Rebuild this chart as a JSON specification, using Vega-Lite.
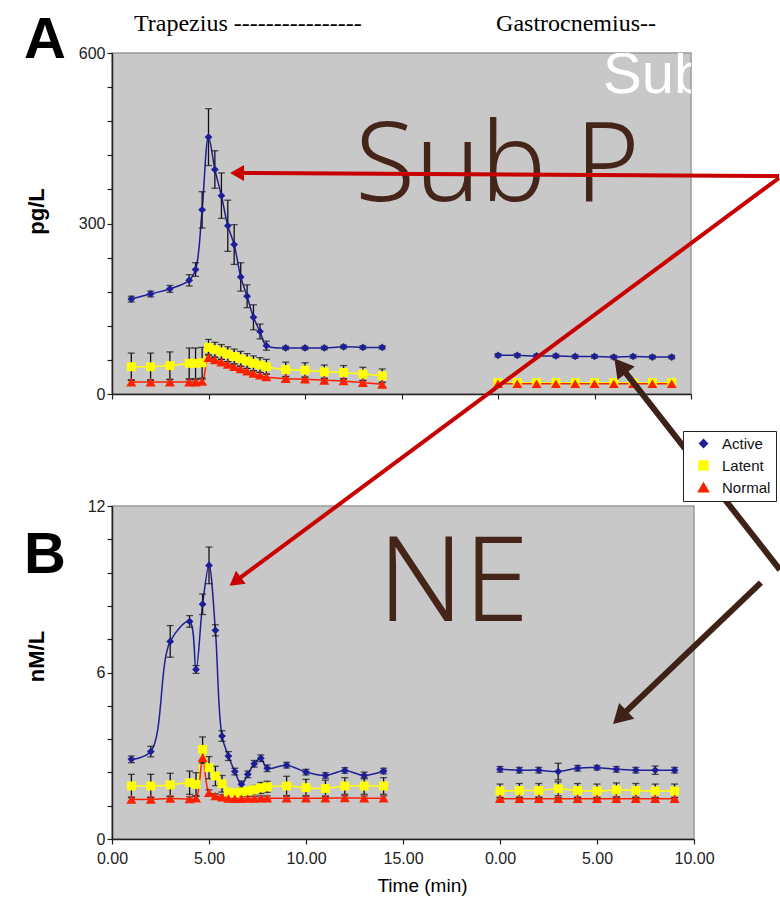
{
  "$schema": "https://vega.github.io/schema/vega-lite/v6.json",
  "padding": {"left": 23, "top": 11, "right": 0, "bottom": 0},
  "bounds": "flush",
  "spacing": 112,
  "config": {
    "view": {"fill": "#c8c8c8", "stroke": "#9a9a9a", "strokeWidth": 1.5},
    "axis": {"grid": false, "domainColor": "#222", "domainWidth": 1.5, "tickColor": "#222", "tickWidth": 1.2, "tickSize": 5, "labelFont": "Liberation Sans", "labelFontSize": 16, "labelColor": "#222", "labelFlush": false, "labelOverlap": false, "titleFont": "Liberation Sans", "titleColor": "#000"}
  },
  "resolve": {
    "scale": {"x": "independent", "y": "independent"}
  },
  "datasets": {
    "subp": [
      {"series": "Active", "muscle": "Trapezius", "time": 1, "value": 167, "sd": 5},
      {"series": "Active", "muscle": "Trapezius", "time": 2, "value": 176, "sd": 5},
      {"series": "Active", "muscle": "Trapezius", "time": 3, "value": 185, "sd": 6},
      {"series": "Active", "muscle": "Trapezius", "time": 4, "value": 200, "sd": 10},
      {"series": "Active", "muscle": "Trapezius", "time": 4.33, "value": 219, "sd": 12},
      {"series": "Active", "muscle": "Trapezius", "time": 4.67, "value": 324, "sd": 32},
      {"series": "Active", "muscle": "Trapezius", "time": 5, "value": 452, "sd": 50},
      {"series": "Active", "muscle": "Trapezius", "time": 5.33, "value": 395, "sd": 33},
      {"series": "Active", "muscle": "Trapezius", "time": 5.67, "value": 349, "sd": 40},
      {"series": "Active", "muscle": "Trapezius", "time": 6, "value": 296, "sd": 45},
      {"series": "Active", "muscle": "Trapezius", "time": 6.33, "value": 263, "sd": 35},
      {"series": "Active", "muscle": "Trapezius", "time": 6.67, "value": 206, "sd": 25},
      {"series": "Active", "muscle": "Trapezius", "time": 7, "value": 172, "sd": 20},
      {"series": "Active", "muscle": "Trapezius", "time": 7.33, "value": 135, "sd": 22},
      {"series": "Active", "muscle": "Trapezius", "time": 7.67, "value": 110, "sd": 13},
      {"series": "Active", "muscle": "Trapezius", "time": 8, "value": 85, "sd": 8},
      {"series": "Active", "muscle": "Trapezius", "time": 9, "value": 81, "sd": 3},
      {"series": "Active", "muscle": "Trapezius", "time": 10, "value": 81, "sd": 3},
      {"series": "Active", "muscle": "Trapezius", "time": 11, "value": 81, "sd": 3},
      {"series": "Active", "muscle": "Trapezius", "time": 12, "value": 83, "sd": 3},
      {"series": "Active", "muscle": "Trapezius", "time": 13, "value": 82, "sd": 3},
      {"series": "Active", "muscle": "Trapezius", "time": 14, "value": 82, "sd": 3},
      {"series": "Active", "muscle": "Gastrocnemius", "time": 0, "value": 68, "sd": 3},
      {"series": "Active", "muscle": "Gastrocnemius", "time": 1, "value": 68, "sd": 3},
      {"series": "Active", "muscle": "Gastrocnemius", "time": 2, "value": 67, "sd": 3},
      {"series": "Active", "muscle": "Gastrocnemius", "time": 3, "value": 67, "sd": 3},
      {"series": "Active", "muscle": "Gastrocnemius", "time": 4, "value": 66, "sd": 3},
      {"series": "Active", "muscle": "Gastrocnemius", "time": 5, "value": 66, "sd": 3},
      {"series": "Active", "muscle": "Gastrocnemius", "time": 6, "value": 65, "sd": 3},
      {"series": "Active", "muscle": "Gastrocnemius", "time": 7, "value": 66, "sd": 3},
      {"series": "Active", "muscle": "Gastrocnemius", "time": 8, "value": 65, "sd": 3},
      {"series": "Active", "muscle": "Gastrocnemius", "time": 9, "value": 65, "sd": 3},
      {"series": "Latent", "muscle": "Trapezius", "time": 1, "value": 48, "sd": 24},
      {"series": "Latent", "muscle": "Trapezius", "time": 2, "value": 48, "sd": 24},
      {"series": "Latent", "muscle": "Trapezius", "time": 3, "value": 50, "sd": 24},
      {"series": "Latent", "muscle": "Trapezius", "time": 4, "value": 54, "sd": 27},
      {"series": "Latent", "muscle": "Trapezius", "time": 4.33, "value": 54, "sd": 27},
      {"series": "Latent", "muscle": "Trapezius", "time": 4.67, "value": 55, "sd": 27},
      {"series": "Latent", "muscle": "Trapezius", "time": 5, "value": 82, "sd": 14},
      {"series": "Latent", "muscle": "Trapezius", "time": 5.33, "value": 78, "sd": 13},
      {"series": "Latent", "muscle": "Trapezius", "time": 5.67, "value": 74, "sd": 13},
      {"series": "Latent", "muscle": "Trapezius", "time": 6, "value": 70, "sd": 13},
      {"series": "Latent", "muscle": "Trapezius", "time": 6.33, "value": 66, "sd": 13},
      {"series": "Latent", "muscle": "Trapezius", "time": 6.67, "value": 62, "sd": 13},
      {"series": "Latent", "muscle": "Trapezius", "time": 7, "value": 58, "sd": 13},
      {"series": "Latent", "muscle": "Trapezius", "time": 7.33, "value": 54, "sd": 13},
      {"series": "Latent", "muscle": "Trapezius", "time": 7.67, "value": 51, "sd": 13},
      {"series": "Latent", "muscle": "Trapezius", "time": 8, "value": 48, "sd": 13},
      {"series": "Latent", "muscle": "Trapezius", "time": 9, "value": 43, "sd": 13},
      {"series": "Latent", "muscle": "Trapezius", "time": 10, "value": 42, "sd": 13},
      {"series": "Latent", "muscle": "Trapezius", "time": 11, "value": 39, "sd": 12},
      {"series": "Latent", "muscle": "Trapezius", "time": 12, "value": 38, "sd": 12},
      {"series": "Latent", "muscle": "Trapezius", "time": 13, "value": 35, "sd": 12},
      {"series": "Latent", "muscle": "Trapezius", "time": 14, "value": 32, "sd": 12},
      {"series": "Latent", "muscle": "Gastrocnemius", "time": 0, "value": 20, "sd": 4},
      {"series": "Latent", "muscle": "Gastrocnemius", "time": 1, "value": 20, "sd": 4},
      {"series": "Latent", "muscle": "Gastrocnemius", "time": 2, "value": 20, "sd": 4},
      {"series": "Latent", "muscle": "Gastrocnemius", "time": 3, "value": 20, "sd": 4},
      {"series": "Latent", "muscle": "Gastrocnemius", "time": 4, "value": 20, "sd": 4},
      {"series": "Latent", "muscle": "Gastrocnemius", "time": 5, "value": 20, "sd": 4},
      {"series": "Latent", "muscle": "Gastrocnemius", "time": 6, "value": 20, "sd": 4},
      {"series": "Latent", "muscle": "Gastrocnemius", "time": 7, "value": 20, "sd": 4},
      {"series": "Latent", "muscle": "Gastrocnemius", "time": 8, "value": 20, "sd": 4},
      {"series": "Latent", "muscle": "Gastrocnemius", "time": 9, "value": 20, "sd": 4},
      {"series": "Normal", "muscle": "Trapezius", "time": 1, "value": 21, "sd": 4},
      {"series": "Normal", "muscle": "Trapezius", "time": 2, "value": 21, "sd": 4},
      {"series": "Normal", "muscle": "Trapezius", "time": 3, "value": 21, "sd": 4},
      {"series": "Normal", "muscle": "Trapezius", "time": 4, "value": 21, "sd": 4},
      {"series": "Normal", "muscle": "Trapezius", "time": 4.33, "value": 21, "sd": 4},
      {"series": "Normal", "muscle": "Trapezius", "time": 4.67, "value": 22, "sd": 4},
      {"series": "Normal", "muscle": "Trapezius", "time": 5, "value": 64, "sd": 6},
      {"series": "Normal", "muscle": "Trapezius", "time": 5.33, "value": 60, "sd": 5},
      {"series": "Normal", "muscle": "Trapezius", "time": 5.67, "value": 56, "sd": 5},
      {"series": "Normal", "muscle": "Trapezius", "time": 6, "value": 52, "sd": 5},
      {"series": "Normal", "muscle": "Trapezius", "time": 6.33, "value": 48, "sd": 5},
      {"series": "Normal", "muscle": "Trapezius", "time": 6.67, "value": 44, "sd": 5},
      {"series": "Normal", "muscle": "Trapezius", "time": 7, "value": 40, "sd": 5},
      {"series": "Normal", "muscle": "Trapezius", "time": 7.33, "value": 36, "sd": 5},
      {"series": "Normal", "muscle": "Trapezius", "time": 7.67, "value": 33, "sd": 5},
      {"series": "Normal", "muscle": "Trapezius", "time": 8, "value": 30, "sd": 5},
      {"series": "Normal", "muscle": "Trapezius", "time": 9, "value": 27, "sd": 4},
      {"series": "Normal", "muscle": "Trapezius", "time": 10, "value": 26, "sd": 4},
      {"series": "Normal", "muscle": "Trapezius", "time": 11, "value": 24, "sd": 4},
      {"series": "Normal", "muscle": "Trapezius", "time": 12, "value": 23, "sd": 4},
      {"series": "Normal", "muscle": "Trapezius", "time": 13, "value": 20, "sd": 4},
      {"series": "Normal", "muscle": "Trapezius", "time": 14, "value": 17, "sd": 4},
      {"series": "Normal", "muscle": "Gastrocnemius", "time": 0, "value": 18, "sd": 2},
      {"series": "Normal", "muscle": "Gastrocnemius", "time": 1, "value": 18, "sd": 2},
      {"series": "Normal", "muscle": "Gastrocnemius", "time": 2, "value": 18, "sd": 2},
      {"series": "Normal", "muscle": "Gastrocnemius", "time": 3, "value": 18, "sd": 2},
      {"series": "Normal", "muscle": "Gastrocnemius", "time": 4, "value": 18, "sd": 2},
      {"series": "Normal", "muscle": "Gastrocnemius", "time": 5, "value": 18, "sd": 2},
      {"series": "Normal", "muscle": "Gastrocnemius", "time": 6, "value": 18, "sd": 2},
      {"series": "Normal", "muscle": "Gastrocnemius", "time": 7, "value": 18, "sd": 2},
      {"series": "Normal", "muscle": "Gastrocnemius", "time": 8, "value": 18, "sd": 2},
      {"series": "Normal", "muscle": "Gastrocnemius", "time": 9, "value": 18, "sd": 2}
    ],
    "ne": [
      {"series": "Active", "muscle": "Trapezius", "time": 1, "value": 2.87, "sd": 0.12},
      {"series": "Active", "muscle": "Trapezius", "time": 2, "value": 3.15, "sd": 0.19},
      {"series": "Active", "muscle": "Trapezius", "time": 3, "value": 7.12, "sd": 0.57},
      {"series": "Active", "muscle": "Trapezius", "time": 4, "value": 7.84, "sd": 0.21},
      {"series": "Active", "muscle": "Trapezius", "time": 4.33, "value": 6.11, "sd": 0.14},
      {"series": "Active", "muscle": "Trapezius", "time": 4.67, "value": 8.46, "sd": 0.37},
      {"series": "Active", "muscle": "Trapezius", "time": 5, "value": 9.86, "sd": 0.66},
      {"series": "Active", "muscle": "Trapezius", "time": 5.33, "value": 7.52, "sd": 0.2},
      {"series": "Active", "muscle": "Trapezius", "time": 5.67, "value": 3.71, "sd": 0.19},
      {"series": "Active", "muscle": "Trapezius", "time": 6, "value": 2.99, "sd": 0.16},
      {"series": "Active", "muscle": "Trapezius", "time": 6.33, "value": 2.43, "sd": 0.12},
      {"series": "Active", "muscle": "Trapezius", "time": 6.67, "value": 1.97, "sd": 0.12},
      {"series": "Active", "muscle": "Trapezius", "time": 7, "value": 2.33, "sd": 0.12},
      {"series": "Active", "muscle": "Trapezius", "time": 7.33, "value": 2.71, "sd": 0.12},
      {"series": "Active", "muscle": "Trapezius", "time": 7.67, "value": 2.91, "sd": 0.12},
      {"series": "Active", "muscle": "Trapezius", "time": 8, "value": 2.55, "sd": 0.12},
      {"series": "Active", "muscle": "Trapezius", "time": 9, "value": 2.66, "sd": 0.1},
      {"series": "Active", "muscle": "Trapezius", "time": 10, "value": 2.41, "sd": 0.1},
      {"series": "Active", "muscle": "Trapezius", "time": 11, "value": 2.29, "sd": 0.1},
      {"series": "Active", "muscle": "Trapezius", "time": 12, "value": 2.47, "sd": 0.1},
      {"series": "Active", "muscle": "Trapezius", "time": 13, "value": 2.29, "sd": 0.12},
      {"series": "Active", "muscle": "Trapezius", "time": 14, "value": 2.45, "sd": 0.1},
      {"series": "Active", "muscle": "Gastrocnemius", "time": 0, "value": 2.51, "sd": 0.1},
      {"series": "Active", "muscle": "Gastrocnemius", "time": 1, "value": 2.48, "sd": 0.1},
      {"series": "Active", "muscle": "Gastrocnemius", "time": 2, "value": 2.48, "sd": 0.1},
      {"series": "Active", "muscle": "Gastrocnemius", "time": 3, "value": 2.43, "sd": 0.3},
      {"series": "Active", "muscle": "Gastrocnemius", "time": 4, "value": 2.55, "sd": 0.1},
      {"series": "Active", "muscle": "Gastrocnemius", "time": 5, "value": 2.57, "sd": 0.08},
      {"series": "Active", "muscle": "Gastrocnemius", "time": 6, "value": 2.51, "sd": 0.1},
      {"series": "Active", "muscle": "Gastrocnemius", "time": 7, "value": 2.48, "sd": 0.1},
      {"series": "Active", "muscle": "Gastrocnemius", "time": 8, "value": 2.48, "sd": 0.15},
      {"series": "Active", "muscle": "Gastrocnemius", "time": 9, "value": 2.48, "sd": 0.1},
      {"series": "Latent", "muscle": "Trapezius", "time": 1, "value": 1.91, "sd": 0.42},
      {"series": "Latent", "muscle": "Trapezius", "time": 2, "value": 1.91, "sd": 0.42},
      {"series": "Latent", "muscle": "Trapezius", "time": 3, "value": 1.95, "sd": 0.42},
      {"series": "Latent", "muscle": "Trapezius", "time": 4, "value": 2.03, "sd": 0.42},
      {"series": "Latent", "muscle": "Trapezius", "time": 4.33, "value": 1.97, "sd": 0.42},
      {"series": "Latent", "muscle": "Trapezius", "time": 4.67, "value": 3.23, "sd": 0.45},
      {"series": "Latent", "muscle": "Trapezius", "time": 5, "value": 2.57, "sd": 0.4},
      {"series": "Latent", "muscle": "Trapezius", "time": 5.33, "value": 2.27, "sd": 0.35},
      {"series": "Latent", "muscle": "Trapezius", "time": 5.67, "value": 1.99, "sd": 0.3},
      {"series": "Latent", "muscle": "Trapezius", "time": 6, "value": 1.69, "sd": 0.1},
      {"series": "Latent", "muscle": "Trapezius", "time": 6.33, "value": 1.66, "sd": 0.1},
      {"series": "Latent", "muscle": "Trapezius", "time": 6.67, "value": 1.7, "sd": 0.1},
      {"series": "Latent", "muscle": "Trapezius", "time": 7, "value": 1.73, "sd": 0.1},
      {"series": "Latent", "muscle": "Trapezius", "time": 7.33, "value": 1.78, "sd": 0.15},
      {"series": "Latent", "muscle": "Trapezius", "time": 7.67, "value": 1.84, "sd": 0.2},
      {"series": "Latent", "muscle": "Trapezius", "time": 8, "value": 1.88, "sd": 0.2},
      {"series": "Latent", "muscle": "Trapezius", "time": 9, "value": 1.91, "sd": 0.35},
      {"series": "Latent", "muscle": "Trapezius", "time": 10, "value": 1.85, "sd": 0.3},
      {"series": "Latent", "muscle": "Trapezius", "time": 11, "value": 1.82, "sd": 0.3},
      {"series": "Latent", "muscle": "Trapezius", "time": 12, "value": 1.91, "sd": 0.3},
      {"series": "Latent", "muscle": "Trapezius", "time": 13, "value": 1.91, "sd": 0.3},
      {"series": "Latent", "muscle": "Trapezius", "time": 14, "value": 1.91, "sd": 0.3},
      {"series": "Latent", "muscle": "Gastrocnemius", "time": 0, "value": 1.73, "sd": 0.25},
      {"series": "Latent", "muscle": "Gastrocnemius", "time": 1, "value": 1.75, "sd": 0.25},
      {"series": "Latent", "muscle": "Gastrocnemius", "time": 2, "value": 1.75, "sd": 0.25},
      {"series": "Latent", "muscle": "Gastrocnemius", "time": 3, "value": 1.81, "sd": 0.25},
      {"series": "Latent", "muscle": "Gastrocnemius", "time": 4, "value": 1.75, "sd": 0.25},
      {"series": "Latent", "muscle": "Gastrocnemius", "time": 5, "value": 1.73, "sd": 0.25},
      {"series": "Latent", "muscle": "Gastrocnemius", "time": 6, "value": 1.77, "sd": 0.25},
      {"series": "Latent", "muscle": "Gastrocnemius", "time": 7, "value": 1.75, "sd": 0.25},
      {"series": "Latent", "muscle": "Gastrocnemius", "time": 8, "value": 1.73, "sd": 0.25},
      {"series": "Latent", "muscle": "Gastrocnemius", "time": 9, "value": 1.73, "sd": 0.25},
      {"series": "Normal", "muscle": "Trapezius", "time": 1, "value": 1.43, "sd": 0.08},
      {"series": "Normal", "muscle": "Trapezius", "time": 2, "value": 1.43, "sd": 0.08},
      {"series": "Normal", "muscle": "Trapezius", "time": 3, "value": 1.46, "sd": 0.08},
      {"series": "Normal", "muscle": "Trapezius", "time": 4, "value": 1.44, "sd": 0.08},
      {"series": "Normal", "muscle": "Trapezius", "time": 4.33, "value": 1.47, "sd": 0.08},
      {"series": "Normal", "muscle": "Trapezius", "time": 4.67, "value": 2.93, "sd": 0.2},
      {"series": "Normal", "muscle": "Trapezius", "time": 5, "value": 1.67, "sd": 0.1},
      {"series": "Normal", "muscle": "Trapezius", "time": 5.33, "value": 1.55, "sd": 0.08},
      {"series": "Normal", "muscle": "Trapezius", "time": 5.67, "value": 1.51, "sd": 0.08},
      {"series": "Normal", "muscle": "Trapezius", "time": 6, "value": 1.46, "sd": 0.08},
      {"series": "Normal", "muscle": "Trapezius", "time": 6.33, "value": 1.45, "sd": 0.08},
      {"series": "Normal", "muscle": "Trapezius", "time": 6.67, "value": 1.45, "sd": 0.08},
      {"series": "Normal", "muscle": "Trapezius", "time": 7, "value": 1.46, "sd": 0.08},
      {"series": "Normal", "muscle": "Trapezius", "time": 7.33, "value": 1.46, "sd": 0.08},
      {"series": "Normal", "muscle": "Trapezius", "time": 7.67, "value": 1.47, "sd": 0.08},
      {"series": "Normal", "muscle": "Trapezius", "time": 8, "value": 1.47, "sd": 0.08},
      {"series": "Normal", "muscle": "Trapezius", "time": 9, "value": 1.47, "sd": 0.08},
      {"series": "Normal", "muscle": "Trapezius", "time": 10, "value": 1.47, "sd": 0.08},
      {"series": "Normal", "muscle": "Trapezius", "time": 11, "value": 1.47, "sd": 0.08},
      {"series": "Normal", "muscle": "Trapezius", "time": 12, "value": 1.48, "sd": 0.08},
      {"series": "Normal", "muscle": "Trapezius", "time": 13, "value": 1.47, "sd": 0.08},
      {"series": "Normal", "muscle": "Trapezius", "time": 14, "value": 1.47, "sd": 0.08},
      {"series": "Normal", "muscle": "Gastrocnemius", "time": 0, "value": 1.45, "sd": 0.05},
      {"series": "Normal", "muscle": "Gastrocnemius", "time": 1, "value": 1.45, "sd": 0.05},
      {"series": "Normal", "muscle": "Gastrocnemius", "time": 2, "value": 1.45, "sd": 0.05},
      {"series": "Normal", "muscle": "Gastrocnemius", "time": 3, "value": 1.45, "sd": 0.05},
      {"series": "Normal", "muscle": "Gastrocnemius", "time": 4, "value": 1.45, "sd": 0.05},
      {"series": "Normal", "muscle": "Gastrocnemius", "time": 5, "value": 1.45, "sd": 0.05},
      {"series": "Normal", "muscle": "Gastrocnemius", "time": 6, "value": 1.45, "sd": 0.05},
      {"series": "Normal", "muscle": "Gastrocnemius", "time": 7, "value": 1.45, "sd": 0.05},
      {"series": "Normal", "muscle": "Gastrocnemius", "time": 8, "value": 1.45, "sd": 0.05},
      {"series": "Normal", "muscle": "Gastrocnemius", "time": 9, "value": 1.45, "sd": 0.05}
    ]
  },
  "vconcat": [
    {
      "width": 579,
      "height": 341,
      "encoding": {
        "x": {"field": "xpos", "type": "quantitative", "scale": {"domain": [0, 30], "nice": false, "zero": false},
              "axis": {"values": [0, 5, 10, 15, 20, 25, 30], "labels": false, "title": null}},
        "y": {"field": "value", "type": "quantitative", "scale": {"domain": [0, 600], "nice": false},
              "axis": {"values": [0, 60, 120, 180, 240, 300, 360, 420, 480, 540, 600], "labelExpr": "datum.value % 300 === 0 ? datum.label : ''", "labelPadding": 2,
                       "title": "pg/L", "titleFontSize": 22, "titleFontWeight": "bold", "titleAngle": -90, "titleX": -64, "titleY": 158, "titleBaseline": "bottom", "titleAlign": "center"}}
      },
      "layer": [
        {
          "data": {"name": "subp"},
          "transform": [{"calculate": "datum.muscle === 'Gastrocnemius' ? datum.time + 20 : datum.time", "as": "xpos"}],
          "layer": [
            {
              "mark": {"type": "line", "interpolate": "catmull-rom", "strokeWidth": 1.5},
              "encoding": {
                "color": {"field": "series", "type": "nominal", "title": null, "scale": {"domain": ["Active", "Latent", "Normal"], "range": ["#1e1e98", "#ffff00", "#ff2000"]}},
                "detail": {"field": "muscle"}
              }
            },
            {
              "mark": {"type": "errorbar", "color": "#111", "thickness": 1.3, "ticks": {"size": 7}},
              "encoding": {"yError": {"field": "sd"}}
            },
            {
              "mark": {"type": "point", "filled": true, "opacity": 1},
              "encoding": {
                "color": {"field": "series", "type": "nominal", "title": null, "scale": {"domain": ["Active", "Latent", "Normal"], "range": ["#1e1e98", "#ffff00", "#ff2000"]},
                          "legend": {"orient": "none", "legendX": 571, "legendY": 378, "strokeColor": "#222", "fillColor": "#ffffff", "padding": 5, "labelFont": "Liberation Sans", "labelFontSize": 15, "labelColor": "#111", "symbolSize": 80, "rowPadding": 6, "symbolOffset": 8, "labelOffset": 11}},
                "shape": {"field": "series", "type": "nominal", "title": null, "scale": {"domain": ["Active", "Latent", "Normal"], "range": ["diamond", "square", "triangle-up"]},
                          "legend": {"orient": "none", "legendX": 571, "legendY": 378, "strokeColor": "#222", "fillColor": "#ffffff", "padding": 5, "labelFont": "Liberation Sans", "labelFontSize": 15, "labelColor": "#111", "symbolSize": 80, "rowPadding": 6, "symbolOffset": 8, "labelOffset": 11}},
                "size": {"field": "series", "type": "ordinal", "scale": {"domain": ["Active", "Latent", "Normal"], "range": [60, 100, 60]}, "legend": null}
              }
            }
          ]
        },
        {
          "data": {"values": [{"xpos": -4.56, "value": 591.2, "label": "A"}]},
          "mark": {"type": "text", "font": "Liberation Sans", "fontWeight": "bold", "fontSize": 58, "align": "left", "baseline": "alphabetic", "color": "#000", "clip": false},
          "encoding": {"text": {"field": "label"}}
        },
        {
          "data": {"values": [{"xpos": 1.14, "value": 638.8, "label": "Trapezius ----------------"}, {"xpos": 19.9, "value": 638.8, "label": "Gastrocnemius--"}]},
          "mark": {"type": "text", "font": "Liberation Serif", "fontSize": 24, "align": "left", "baseline": "alphabetic", "color": "#000", "clip": false},
          "encoding": {"text": {"field": "label"}}
        },
        {
          "data": {"values": [{"xpos": 25.44, "value": 529.7, "label": "SubP"}]},
          "mark": {"type": "text", "font": "Liberation Sans", "fontSize": 58, "align": "left", "baseline": "alphabetic", "color": "#ffffff", "clip": true},
          "encoding": {"text": {"field": "label"}}
        },
        {
          "data": {"values": [{"xpos": 19.97, "value": 339.6, "label": "Sub P"}]},
          "mark": {"type": "text", "font": "Noto Sans", "fontWeight": 300, "fontSize": 110, "align": "center", "baseline": "alphabetic", "color": "#45251a", "clip": false},
          "encoding": {"text": {"field": "label"}}
        },
        {
          "data": {"values": [{"xpos": 34.56, "value": 383.6, "xpos2": 6.48, "value2": 388.9}]},
          "mark": {"type": "rule", "color": "#c80000", "strokeWidth": 4, "clip": false},
          "encoding": {"x2": {"field": "xpos2"}, "y2": {"field": "value2"}}
        },
        {
          "data": {"values": [{"xpos": 6.48, "value": 388.9}]},
          "mark": {"type": "point", "shape": "triangle-up", "filled": true, "opacity": 1, "color": "#c80000", "size": 260, "angle": 270, "clip": false},
          "encoding": {}
        }
      ]
    },
    {
      "width": 582,
      "height": 333,
      "encoding": {
        "x": {"field": "xpos", "type": "quantitative", "scale": {"domain": [0, 30], "nice": false, "zero": false},
              "axis": {"values": [0, 5, 10, 15, 20, 25, 30], "labelExpr": "format(datum.value >= 20 ? datum.value - 20 : datum.value, '.2f')", "labelPadding": 6,
                       "title": "Time (min)", "titleFontSize": 19, "titleFontWeight": "normal", "titleX": 310, "titlePadding": 10}},
        "y": {"field": "value", "type": "quantitative", "scale": {"domain": [0, 12], "nice": false},
              "axis": {"values": [0, 1.2, 2.4, 3.6, 4.8, 6, 7.2, 8.4, 9.6, 10.8, 12], "labelExpr": "datum.value === 0 || datum.value === 6 || datum.value === 12 ? datum.label : ''", "labelPadding": 2,
                       "title": "nM/L", "titleFontSize": 22, "titleFontWeight": "bold", "titleAngle": -90, "titleX": -64, "titleY": 150, "titleBaseline": "bottom", "titleAlign": "center"}}
      },
      "layer": [
        {
          "data": {"name": "ne"},
          "transform": [{"calculate": "datum.muscle === 'Gastrocnemius' ? datum.time + 20 : datum.time", "as": "xpos"}],
          "layer": [
            {
              "mark": {"type": "line", "interpolate": "catmull-rom", "strokeWidth": 1.5},
              "encoding": {
                "color": {"field": "series", "type": "nominal", "title": null, "scale": {"domain": ["Active", "Latent", "Normal"], "range": ["#1e1e98", "#ffff00", "#ff2000"]}},
                "detail": {"field": "muscle"}
              }
            },
            {
              "mark": {"type": "errorbar", "color": "#111", "thickness": 1.3, "ticks": {"size": 7}},
              "encoding": {"yError": {"field": "sd"}}
            },
            {
              "mark": {"type": "point", "filled": true, "opacity": 1},
              "encoding": {
                "color": {"field": "series", "type": "nominal", "title": null, "scale": {"domain": ["Active", "Latent", "Normal"], "range": ["#1e1e98", "#ffff00", "#ff2000"]}},
                "shape": {"field": "series", "type": "nominal", "title": null, "scale": {"domain": ["Active", "Latent", "Normal"], "range": ["diamond", "square", "triangle-up"]}},
                "size": {"field": "series", "type": "ordinal", "scale": {"domain": ["Active", "Latent", "Normal"], "range": [60, 100, 60]}, "legend": null}
              }
            }
          ]
        },
        {
          "data": {"values": [{"xpos": -4.54, "value": 9.59, "label": "B"}]},
          "mark": {"type": "text", "font": "Liberation Sans", "fontWeight": "bold", "fontSize": 58, "align": "left", "baseline": "alphabetic", "color": "#000", "clip": false},
          "encoding": {"text": {"field": "label"}}
        },
        {
          "data": {"values": [{"xpos": 17.6, "value": 7.86, "label": "NE"}]},
          "mark": {"type": "text", "font": "Noto Sans", "fontWeight": 300, "fontSize": 118, "align": "center", "baseline": "alphabetic", "color": "#45251a", "clip": false},
          "encoding": {"text": {"field": "label"}}
        },
        {
          "data": {"values": [{"xpos": 34.38, "value": 23.82, "xpos2": 6.35, "value2": 9.28}]},
          "mark": {"type": "rule", "color": "#c80000", "strokeWidth": 4, "clip": false},
          "encoding": {"x2": {"field": "xpos2"}, "y2": {"field": "value2"}}
        },
        {
          "data": {"values": [{"xpos": 6.35, "value": 9.28}]},
          "mark": {"type": "point", "shape": "triangle-up", "filled": true, "opacity": 1, "color": "#c80000", "size": 260, "angle": 233, "clip": false},
          "encoding": {}
        },
        {
          "data": {"values": [{"xpos": 34.43, "value": 9.7, "xpos2": 26.2, "value2": 17.05}, {"xpos": 33.45, "value": 9.24, "xpos2": 26.18, "value2": 4.38}]},
          "mark": {"type": "rule", "color": "#3e2218", "strokeWidth": 6, "clip": false},
          "encoding": {"x2": {"field": "xpos2"}, "y2": {"field": "value2"}}
        },
        {
          "data": {"values": [{"xpos": 26.2, "value": 17.05}]},
          "mark": {"type": "point", "shape": "triangle-up", "filled": true, "opacity": 1, "color": "#3e2218", "size": 480, "angle": 322, "clip": false},
          "encoding": {}
        },
        {
          "data": {"values": [{"xpos": 26.18, "value": 4.38}]},
          "mark": {"type": "point", "shape": "triangle-up", "filled": true, "opacity": 1, "color": "#3e2218", "size": 480, "angle": 226, "clip": false},
          "encoding": {}
        }
      ]
    }
  ]
}
